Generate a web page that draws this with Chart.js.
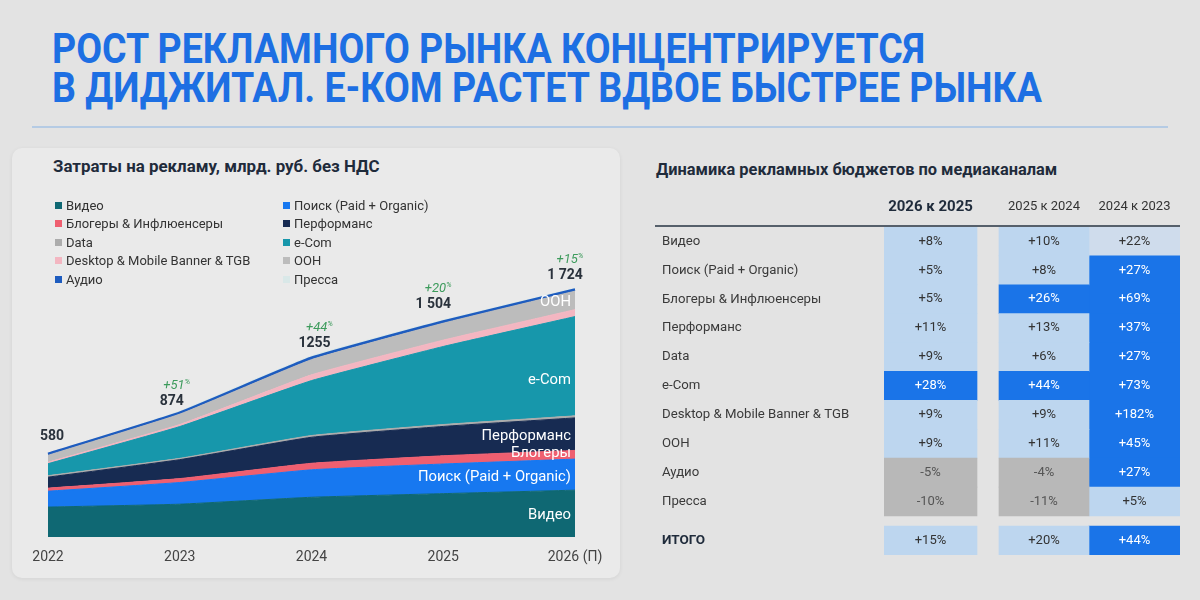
<!DOCTYPE html>
<html lang="ru">
<head>
<meta charset="utf-8">
<script src="https://cdn.jsdelivr.net/npm/chart.js@4.4.1/dist/chart.umd.min.js"></script>
<style>
  html, body { margin: 0; padding: 0; }
  body { width: 1200px; height: 600px; background: #e3e3e3; font-family: Roboto, 'Noto Sans', sans-serif; position: relative; overflow: hidden; }
  #title { position: absolute; left: 52px; top: 29px; color: #1d6fe3; font-weight: 700; font-size: 43px; line-height: 39px; white-space: nowrap; transform-origin: 0 0; }
  #title span { display: inline-block; }
  #rule { position: absolute; left: 32px; top: 126px; width: 1136px; height: 2px; background: #b5cbe4; }
  #panel { position: absolute; left: 12px; top: 148px; width: 608px; height: 430px; background: #eaeaea; border-radius: 10px; box-shadow: 0 1px 4px rgba(0,0,0,.07); }
  .sub { position: absolute; font-weight: 700; color: #1f2b3b; white-space: nowrap; }
  #legend { position: absolute; left: 55px; top: 196px; display: grid; grid-template-columns: 228px 228px; font-size: 13px; color: #333; z-index: 2; }
  #legend div { height: 18.5px; display: flex; align-items: center; white-space: nowrap; }
  #legend i { width: 7px; height: 7px; margin-right: 4px; display: inline-block; }
  #areaWrap { position: absolute; left: 0; top: 150px; width: 620px; height: 430px; }
  #tableWrap { position: absolute; left: 655px; top: 180px; width: 530px; height: 385px; }
</style>
</head>
<body>
<div id="title"><span id="t1">РОСТ РЕКЛАМНОГО РЫНКА КОНЦЕНТРИРУЕТСЯ</span><br><span>В ДИДЖИТАЛ. E-КОМ РАСТЕТ ВДВОЕ БЫСТРЕЕ РЫНКА</span></div>
<div id="rule"></div>
<div id="panel"></div>
<div class="sub" style="left:53px; top:156px; font-size:16.9px;">Затраты на рекламу, млрд. руб. без НДС</div>
<div class="sub" style="left:656px; top:160px; font-size:16.4px;">Динамика рекламных бюджетов по медиаканалам</div>
<div id="legend"></div>
<div id="areaWrap"><canvas id="areaChart"></canvas></div>
<div id="tableWrap"><canvas id="tableChart"></canvas></div>
<script>
// --- затраты, млрд руб. (оценка по графику)
const years = ['2022', '2023', '2024', '2025', '2026 (П)'];
const video = [207, 227, 275, 300, 324];
const search = [110, 150, 190, 205, 215];
const bloggers = [21, 27, 45, 57, 60];
const performance = [76, 131, 180, 203, 225];
const dataSeg = [10, 9, 12, 13, 14];
const ecom = [83, 220, 380, 540, 687];
const banners = [10, 14, 40, 44, 48];
const ooh = [48, 72, 105, 117, 128];
const audio = [10, 10, 13, 12, 11];
const press = [5, 14, 15, 13, 12];
const totals = [580, 874, 1255, 1504, 1724];
const totalLabels = ['580', '874', '1255', '1 504', '1 724'];
const growthLabels = ['', '+51', '+44', '+20', '+15'];

// --- динамика по медиаканалам, %
const channels = ['Видео', 'Поиск (Paid + Organic)', 'Блогеры & Инфлюенсеры', 'Перформанс', 'Data', 'e-Com',
                  'Desktop & Mobile Banner & TGB', 'OOH', 'Аудио', 'Пресса'];
const legendNames = ['Видео', 'Поиск (Paid + Organic)', 'Блогеры & Инфлюенсеры', 'Перформанс', 'Data', 'e-Com',
                     'Desktop & Mobile Banner & TGB', 'ООН', 'Аудио', 'Пресса'];
const periods = ['2026 к 2025', '2025 к 2024', '2024 к 2023'];
const g2625 = [8, 5, 5, 11, 9, 28, 9, 9, -5, -10];
const g2524 = [10, 8, 26, 13, 6, 44, 9, 11, -4, -11];
const g2423 = [22, 27, 69, 37, 27, 73, 182, 45, 27, 5];
const totalGrowth = [15, 20, 44];

const seriesColors = ['#0f6873', '#1778f0', '#ef5f70', '#172b52', '#acacac', '#1797ab',
                      '#f3b6c1', '#bcbcbc', '#1e5cbf', '#d9e8e8'];
const series = [video, search, bloggers, performance, dataSeg, ecom, banners, ooh, audio, press];

// легенда в две колонки
const legendEl = document.getElementById('legend');
legendNames.forEach((name, i) => {
    const d = document.createElement('div');
    d.innerHTML = '<i style="background:' + seriesColors[i] + '"></i>' + name;
    legendEl.appendChild(d);
});

// заголовок узким начертанием
const t1w = document.getElementById('t1').getBoundingClientRect().width;
document.getElementById('title').style.transform = 'scaleX(' + (873 / t1w) + ')';

const totalNudge = [4, -8, 3, -10, -10];
const totalLift = [17, 9, 12, 15, 12];
const bandLabels = [
    { ds: 0, text: 'Видео', dy: 2 },
    { ds: 1, text: 'Поиск (Paid + Organic)', dy: 3 },
    { ds: 2, text: 'Блогеры', dy: -1 },
    { ds: 3, text: 'Перформанс', dy: 2 },
    { ds: 5, text: 'e-Com', dy: 14 },
    { ds: 7, text: 'ООН', dy: 2 }
];

const areaMarks = {
    id: 'areaMarks',
    afterDatasetsDraw(chart) {
        const { ctx, scales: { x, y } } = chart;
        ctx.save();
        ctx.textBaseline = 'middle';
        totals.forEach((t, i) => {
            const cx = x.getPixelForValue(i) + totalNudge[i];
            const cy = y.getPixelForValue(t) - totalLift[i];
            ctx.textAlign = 'center';
            ctx.font = 'bold 14px Roboto';
            ctx.fillStyle = '#2a323c';
            ctx.fillText(totalLabels[i], cx, cy);
            if (growthLabels[i]) {
                ctx.font = 'italic 13px Roboto';
                const w1 = ctx.measureText(growthLabels[i]).width;
                ctx.font = 'italic 8px Roboto';
                const w2 = ctx.measureText('%').width;
                const left = cx + 5 - (w1 + w2) / 2;
                ctx.textAlign = 'left';
                ctx.fillStyle = '#3d9b5c';
                ctx.font = 'italic 13px Roboto';
                ctx.fillText(growthLabels[i], left, cy - 16);
                ctx.font = 'italic 8px Roboto';
                ctx.fillText('%', left + w1, cy - 20);
            }
        });
        const last = years.length - 1;
        ctx.textAlign = 'right';
        ctx.font = '14.8px Roboto';
        ctx.fillStyle = '#ffffff';
        bandLabels.forEach(b => {
            const top = chart.getDatasetMeta(b.ds).data[last].y;
            const bottom = b.ds === 0 ? y.getPixelForValue(0) : chart.getDatasetMeta(b.ds - 1).data[last].y;
            ctx.fillText(b.text, x.getPixelForValue(last) - 4, (top + bottom) / 2 + b.dy);
        });
        ctx.restore();
    }
};

new Chart(document.getElementById('areaChart'), {
    type: 'line',
    data: {
        labels: years,
        datasets: series.map((vals, i) => ({
            label: legendNames[i],
            data: vals,
            backgroundColor: seriesColors[i],
            borderColor: seriesColors[i],
            borderWidth: i === 8 ? 2.5 : (i === 9 ? 0 : 1),
            fill: i === 0 ? 'origin' : '-1',
            pointRadius: 0,
            tension: 0.12
        }))
    },
    options: {
        responsive: true,
        maintainAspectRatio: false,
        animation: false,
        layout: { padding: { left: 48, right: 45, top: 69, bottom: 13 } },
        plugins: { legend: { display: false }, tooltip: { enabled: false } },
        scales: {
            x: {
                grid: { display: false, drawTicks: false },
                border: { display: false },
                ticks: { padding: 12, color: '#444', font: { family: 'Roboto', size: 14 }, maxRotation: 0 },
                afterFit: s => { s.height = 30; }
            },
            y: { display: false, stacked: true, min: 0, max: 2200 }
        }
    },
    plugins: [areaMarks]
});

// --- таблица
const colSpans = [[0, 93], [115, 205], [205, 296]];
const rowPos = [0, 1, 2, 3, 4, 5, 6, 7, 8, 9, 10.35];
const rowNames = [...channels, 'ИТОГО'];
const tableValues = [g2625, g2524, g2423].map((col, c) => [...col, totalGrowth[c]]);

function tone(v) {
    if (v < 0) return { fill: '#b8b8b8', text: '#555' };
    if (v >= 25) return { fill: '#1a74e8', text: '#ffffff' };
    if (v > 20) return { fill: '#cfdcec', text: '#333' };
    return { fill: '#bdd6ef', text: '#333' };
}

const tableMarks = {
    id: 'tableMarks',
    afterDatasetsDraw(chart) {
        const { ctx, scales: { x, y }, chartArea } = chart;
        ctx.save();
        ctx.textAlign = 'center';
        ctx.textBaseline = 'middle';
        periods.forEach((p, c) => {
            const cx = x.getPixelForValue((colSpans[c][0] + colSpans[c][1]) / 2);
            ctx.font = c === 0 ? 'bold 15px Roboto' : '13px Roboto';
            ctx.fillStyle = c === 0 ? '#1f2b3b' : '#333';
            ctx.fillText(p, cx, 27);
        });
        ctx.strokeStyle = '#56606b';
        ctx.lineWidth = 2;
        ctx.beginPath();
        ctx.moveTo(0, chartArea.top - 1);
        ctx.lineTo(chartArea.right, chartArea.top - 1);
        ctx.stroke();
        ctx.font = '13px Roboto';
        tableValues.forEach((col, c) => {
            chart.getDatasetMeta(c).data.forEach((el, r) => {
                const v = col[r];
                ctx.fillStyle = tone(v).text;
                ctx.fillText((v > 0 ? '+' : '') + v + '%', (el.x + el.base) / 2, el.y);
            });
        });
        // подписи строк
        ctx.textAlign = 'left';
        rowNames.forEach((name, r) => {
            const total = r === rowNames.length - 1;
            ctx.font = total ? 'bold 13.5px Roboto' : '13.2px Roboto';
            ctx.fillStyle = total ? '#1f2b3b' : '#3a3a3a';
            ctx.fillText(name, 7, y.getPixelForValue(rowPos[r]));
        });
        ctx.restore();
    }
};

new Chart(document.getElementById('tableChart'), {
    type: 'bar',
    data: {
        datasets: tableValues.map((col, c) => ({
            label: periods[c],
            data: col.map((v, r) => ({ x: colSpans[c], y: rowPos[r] })),
            backgroundColor: ctx => tone(col[ctx.dataIndex]).fill,
            borderWidth: 0,
            barThickness: 29,
            grouped: false
        }))
    },
    options: {
        indexAxis: 'y',
        responsive: true,
        maintainAspectRatio: false,
        animation: false,
        layout: { padding: { left: 229, right: 5, top: 47, bottom: 10 } },
        plugins: { legend: { display: false }, tooltip: { enabled: false } },
        scales: {
            x: { type: 'linear', display: false, min: 0, max: 296 },
            y: { type: 'linear', display: false, offset: false, reverse: true, min: -0.5, max: 10.85 }
        }
    },
    plugins: [tableMarks]
});
</script>
</body>
</html>
